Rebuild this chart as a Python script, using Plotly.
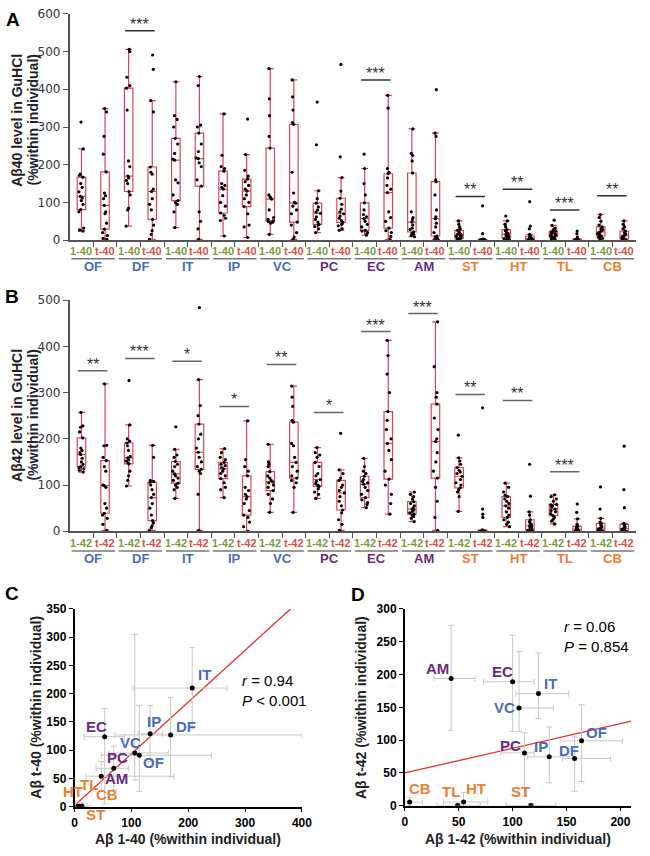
import plotly.graph_objects as go

# ---------------- data ----------------
regions = ["OF", "DF", "IT", "IP", "VC", "PC", "EC", "AM", "ST", "HT", "TL", "CB"]
region_class = ["b", "b", "b", "b", "b", "p", "p", "p", "o", "o", "o", "o"]

# Panel A: Abeta40 level in GuHCl (% within individual), per region
a40_1 = [
    [24, 27, 32, 75, 81, 95, 105, 112, 116, 128, 140, 150, 167, 172, 175, 242, 313],
    [37, 80, 85, 120, 129, 150, 158, 165, 170, 195, 210, 345, 403, 410, 432, 500, 506],
    [33, 75, 95, 100, 105, 120, 152, 160, 212, 215, 230, 255, 270, 300, 320, 330, 420],
    [11, 52, 58, 66, 72, 90, 100, 118, 135, 140, 145, 150, 183, 190, 195, 225, 335],
    [15, 45, 48, 50, 51, 55, 60, 80, 109, 112, 115, 120, 244, 275, 330, 375, 455],
    [20, 30, 36, 40, 42, 48, 55, 62, 71, 75, 80, 88, 98, 110, 131, 253, 366],
    [13, 18, 20, 24, 26, 35, 42, 50, 57, 62, 68, 80, 99, 120, 150, 190, 228],
    [9, 12, 15, 18, 22, 28, 32, 40, 48, 55, 60, 75, 178, 210, 225, 230, 295],
    [1, 2, 3, 4, 5, 8, 10, 12, 14, 16, 18, 22, 26, 30, 35, 42, 51],
    [1, 2, 3, 4, 5, 8, 10, 12, 15, 18, 20, 25, 28, 35, 42, 51, 64],
    [2, 4, 6, 8, 9, 11, 13, 15, 17, 19, 21, 22, 24, 28, 32, 39, 53],
    [3, 5, 8, 10, 11, 14, 17, 20, 22, 25, 28, 30, 35, 40, 50, 60, 68],
]
a40_t = [
    [2, 5, 12, 20, 29, 45, 70, 75, 92, 110, 118, 125, 181, 228, 275, 340, 349],
    [2, 15, 25, 40, 55, 80, 95, 110, 129, 135, 175, 180, 194, 340, 370, 453, 491],
    [2, 30, 50, 75, 143, 160, 195, 205, 216, 218, 235, 255, 284, 300, 305, 410, 434],
    [7, 35, 40, 70, 89, 100, 110, 120, 130, 135, 145, 155, 162, 170, 185, 227, 321],
    [2, 8, 20, 40, 48, 70, 80, 90, 98, 100, 125, 180, 307, 312, 345, 380, 425],
    [26, 30, 38, 42, 47, 52, 58, 64, 70, 75, 82, 95, 111, 130, 166, 221, 466],
    [2, 10, 20, 25, 32, 50, 60, 75, 126, 135, 145, 165, 176, 180, 190, 350, 384],
    [2, 4, 6, 9, 11, 20, 35, 45, 57, 62, 80, 120, 155, 160, 275, 284, 399],
    [0, 0, 0, 0, 0, 0, 0, 0, 0, 0, 0, 1, 1, 2, 3, 17, 91],
    [0, 0, 0, 1, 1, 2, 3, 4, 5, 6, 7, 9, 11, 15, 30, 37, 102],
    [0, 0, 0, 0, 0, 0, 0, 0, 1, 1, 2, 2, 3, 4, 8, 17, 24],
    [0, 0, 1, 2, 3, 5, 7, 9, 12, 14, 16, 20, 24, 30, 35, 42, 51],
]
# Panel B: Abeta42
a42_1 = [
    [128, 132, 135, 137, 140, 145, 150, 158, 166, 170, 175, 180, 202, 215, 225, 228, 257],
    [98, 110, 120, 130, 146, 148, 152, 155, 159, 162, 175, 185, 191, 195, 200, 230, 326],
    [71, 90, 95, 100, 104, 110, 115, 120, 124, 130, 140, 145, 151, 160, 165, 177, 226],
    [73, 90, 95, 105, 114, 120, 125, 130, 135, 138, 142, 145, 149, 155, 160, 170, 179],
    [41, 60, 70, 80, 88, 95, 100, 105, 107, 110, 115, 120, 129, 140, 145, 150, 188],
    [71, 80, 85, 92, 97, 100, 103, 108, 112, 120, 125, 140, 149, 160, 165, 170, 181],
    [51, 58, 62, 68, 73, 80, 88, 95, 102, 105, 108, 112, 119, 125, 130, 140, 158],
    [21, 28, 32, 35, 37, 40, 43, 46, 48, 50, 55, 60, 64, 70, 75, 80, 85],
    [43, 75, 85, 90, 94, 100, 105, 112, 119, 125, 128, 132, 138, 145, 152, 159, 208],
    [10, 15, 20, 25, 30, 35, 42, 50, 55, 60, 65, 70, 75, 78, 85, 95, 104],
    [16, 22, 26, 30, 34, 38, 42, 45, 48, 52, 55, 57, 58, 65, 70, 75, 79],
    [0, 1, 1, 2, 2, 3, 4, 5, 7, 9, 11, 14, 17, 20, 28, 48, 96],
]
a42_t = [
    [2, 15, 28, 35, 39, 50, 60, 95, 99, 100, 130, 140, 153, 160, 185, 186, 319],
    [2, 8, 12, 18, 23, 35, 50, 60, 73, 80, 90, 100, 106, 108, 110, 160, 186],
    [2, 80, 125, 130, 134, 140, 150, 160, 171, 180, 200, 210, 232, 250, 272, 328, 484],
    [0, 10, 20, 30, 35, 45, 60, 70, 75, 80, 88, 95, 120, 130, 140, 155, 239],
    [41, 95, 105, 110, 115, 120, 130, 140, 149, 160, 185, 190, 236, 240, 270, 290, 314],
    [2, 15, 25, 40, 46, 55, 65, 75, 83, 88, 95, 100, 110, 115, 125, 133, 212],
    [37, 60, 80, 100, 113, 130, 155, 175, 190, 200, 220, 240, 259, 300, 340, 380, 413],
    [2, 30, 65, 95, 115, 130, 150, 170, 194, 200, 220, 245, 275, 290, 300, 356, 453],
    [0, 0, 0, 0, 0, 0, 0, 0, 0, 1, 1, 2, 3, 30, 37, 48, 267],
    [0, 0, 1, 2, 3, 5, 7, 10, 12, 15, 18, 21, 25, 35, 42, 76, 145],
    [0, 0, 0, 0, 0, 1, 2, 3, 4, 5, 7, 9, 11, 15, 27, 41, 59],
    [0, 0, 1, 1, 2, 3, 4, 5, 6, 8, 10, 12, 15, 17, 51, 90, 184],
]

sigA_region = [1, 6, 8, 9, 10, 11]
sigA_level = [555, 425, 116, 135, 80, 118]
sigA_text = ["***", "***", "**", "**", "***", "**"]
sigB_region = [0, 1, 2, 3, 4, 5, 6, 7, 8, 9, 10]
sigB_level = [347, 374, 368, 270, 361, 257, 432, 471, 296, 283, 129]
sigB_text = ["**", "***", "*", "*", "**", "*", "***", "***", "**", "**", "***"]

# Panel C: Abeta 1-40 vs t-40 (mean with ranges)
c_x = [114, 169, 207, 133, 106, 69, 53, 47, 11, 6, 9, 13]
c_y = [91, 127, 210, 129, 95, 68, 124, 54, 0, 1, 1, 1]
c_x_lo = [47, 71, 103, 112, 60, 38, 17, 20, 2, 1, 3, 5]
c_x_hi = [241, 400, 268, 155, 165, 95, 88, 175, 27, 12, 16, 22]
c_y_lo = [27, 53, 138, 80, 47, 30, 5, 27, 0, 0, 0, 0]
c_y_hi = [179, 193, 282, 179, 305, 107, 174, 80, 3, 4, 4, 8]
fit_c_x = [0, 380]
fit_c_y = [2, 350]

# Panel D: Abeta 1-42 vs t-42
d_x = [164, 157.5, 124, 134, 106, 111, 100, 43, 117, 54.5, 49, 4.5]
d_y = [99, 72, 171, 74.5, 149, 80.5, 189, 194, 0.5, 5.5, 0.5, 5.5]
d_x_lo = [144, 146, 103, 114, 100, 89, 73, 27, 94, 36, 30, 0]
d_x_hi = [202, 191, 152, 157, 138, 120, 120, 65, 140, 77, 70, 16.5]
d_y_lo = [37, 22, 133, 35, 113, 15, 113, 115, 0, 0, 0, 0]
d_y_hi = [154, 105, 233, 120, 235, 111, 260, 275, 3, 20, 3, 13]
fit_d_x = [0, 210]
fit_d_y = [50, 129]

# ---------------- style ----------------
W, H = 650, 856
ARIAL = "Liberation Sans, Arial, sans-serif"
DEJAVU = "DejaVu Sans, Verdana, sans-serif"
BOX = "#d8445e"
GREEN = "#7d9c3c"
TRED = "#d6514b"
CLS = {"b": "#4a6db5", "p": "#6a2b7c", "o": "#ee7d30"}
FIT = "#e3302a"
ERR = "#c8c8c8"


def px(x):
    return x / W


def py(y):
    return 1 - y / H


fig = go.Figure()


def add_boxes(series, offset, xa, ya):
    xs, ys = [], []
    for i, vals in enumerate(series):
        xs.extend([2 * i + offset] * len(vals))
        ys.extend(vals)
    fig.add_trace(go.Box(
        x=xs, y=ys, xaxis=xa, yaxis=ya, boxpoints="all", jitter=0.8, pointpos=0,
        width=0.36, whiskerwidth=0.8, quartilemethod="inclusive",
        line=dict(color=BOX, width=1.2), fillcolor="rgba(0,0,0,0)",
        marker=dict(color="black", size=3.2), showlegend=False, hoverinfo="skip"))


add_boxes(a40_1, 0, "x", "y")
add_boxes(a40_t, 1, "x", "y")
add_boxes(a42_1, 0, "x2", "y2")
add_boxes(a42_t, 1, "x2", "y2")

annotations = []
shapes = []


def note(**kw):
    kw.setdefault("showarrow", False)
    kw.setdefault("xanchor", "center")
    kw.setdefault("yanchor", "middle")
    annotations.append(kw)


def cat_labels(xa, y_lab, y_line, y_reg, sfx):
    for i, r in enumerate(regions):
        note(x=2 * i, y=py(y_lab), xref=xa, yref="paper", text="1-" + sfx,
             font=dict(family=ARIAL, size=11, color=GREEN, weight="bold"))
        note(x=2 * i + 1, y=py(y_lab), xref=xa, yref="paper", text="t-" + sfx,
             font=dict(family=ARIAL, size=11, color=TRED, weight="bold"))
        shapes.append(dict(type="line", xref=xa, yref="paper", x0=2 * i - 0.42, x1=2 * i + 1.42,
                           y0=py(y_line), y1=py(y_line), line=dict(color="#777", width=1.5)))
        note(x=2 * i + 0.5, y=py(y_reg), xref=xa, yref="paper", text=r,
             font=dict(family=ARIAL, size=13, color=CLS[region_class[i]], weight="bold"))


cat_labels("x", 248, 256, 264, "40")
cat_labels("x2", 545, 553, 561, "42")


def sig(xa, ya, idx, lev, txt, col):
    for g, lv, t in zip(idx, lev, txt):
        shapes.append(dict(type="line", xref=xa, yref=ya, x0=2 * g - 0.15, x1=2 * g + 1.1,
                           y0=lv, y1=lv, line=dict(color=col, width=1.5)))
        note(x=2 * g + 0.47, y=lv, xref=xa, yref=ya, text=t, yanchor="bottom", yshift=-4,
             font=dict(family=ARIAL, size=16, color="#333"))


sig("x", "y", sigA_region, sigA_level, sigA_text, "#333")
sig("x2", "y2", sigB_region, sigB_level, sigB_text, "#666")

# scatter panels
reg_colors = [CLS[c] for c in region_class]


def add_scatter(xa, ya, xv, yv, xlo, xhi, ylo, yhi, fx, fy):
    fig.add_trace(go.Scatter(x=fx, y=fy, xaxis=xa, yaxis=ya, mode="lines",
                             line=dict(color=FIT, width=1.3), showlegend=False, hoverinfo="skip"))
    fig.add_trace(go.Scatter(
        x=xv, y=yv, xaxis=xa, yaxis=ya, mode="markers", showlegend=False, hoverinfo="skip",
        marker=dict(color="black", size=5),
        error_x=dict(type="data", symmetric=False,
                     array=[h - v for h, v in zip(xhi, xv)],
                     arrayminus=[v - l for l, v in zip(xlo, xv)],
                     color=ERR, thickness=1, width=3),
        error_y=dict(type="data", symmetric=False,
                     array=[h - v for h, v in zip(yhi, yv)],
                     arrayminus=[v - l for l, v in zip(ylo, yv)],
                     color=ERR, thickness=1, width=3)))


add_scatter("x3", "y3", c_x, c_y, c_x_lo, c_x_hi, c_y_lo, c_y_hi, fit_c_x, fit_c_y)
add_scatter("x4", "y4", d_x, d_y, d_x_lo, d_x_hi, d_y_lo, d_y_hi, fit_d_x, fit_d_y)

shift_c = {"OF": (14, -7), "DF": (15, 8), "IT": (12, 14), "IP": (4, 12), "VC": (-4, 11),
           "PC": (4, 11), "EC": (-8, 10), "AM": (15, -2), "ST": (15, -8), "HT": (-5, 15),
           "TL": (9, 22), "CB": (25, 12)}
shift_d = {"OF": (15, 8), "DF": (-6, 8), "IT": (12, 10), "IP": (-8, 10), "VC": (-15, 1),
           "PC": (-14, 7), "EC": (-10, 10), "AM": (-14, 10), "ST": (-10, 14), "HT": (12, 14),
           "TL": (-7, 14), "CB": (10, 14)}
for xa, ya, xv, yv, sh in (("x3", "y3", c_x, c_y, shift_c), ("x4", "y4", d_x, d_y, shift_d)):
    for r, x, y, col in zip(regions, xv, yv, reg_colors):
        note(x=x, y=y, xref=xa, yref=ya, text=r, xshift=sh[r][0], yshift=sh[r][1],
             font=dict(family=ARIAL, size=15, color=col, weight="bold"))

# stats text
note(x=px(242), y=py(695), xref="paper", yref="paper", xanchor="left",
     text="<i>r</i> = 0.94<br><i>P</i> &lt; 0.001", align="left",
     font=dict(family=ARIAL, size=15, color="black"))
note(x=px(570), y=py(640), xref="paper", yref="paper", xanchor="left",
     text="<i>r</i> = 0.06<br><i>P</i> = 0.854", align="left",
     font=dict(family=ARIAL, size=15, color="black"))

# panel letters
for letter, lx, ly in (("A", 10, 13), ("B", 9, 294), ("C", 9, 596), ("D", 362, 597)):
    note(x=px(lx), y=py(ly), xref="paper", yref="paper", text=letter,
         font=dict(family=ARIAL, size=19, color="black", weight="bold"))

# axis titles
for txt, xx, yy in (("Aβ40 level in GuHCl", 14, 115), ("(%within individual)", 31, 115),
                    ("Aβ42 level in GuHCl", 14, 415), ("(%within individual)", 31, 415)):
    note(x=px(xx), y=py(yy), xref="paper", yref="paper", text=txt, textangle=-90,
         font=dict(family=ARIAL, size=14, color="#222", weight="bold"))
for txt, xx, yy, ang in (("Aβ t-40 (%within individual)", 34, 712, -90),
                         ("Aβ 1-40 (%within individual)", 189, 846, 0),
                         ("Aβ t-42 (%within individual)", 366, 712, -90),
                         ("Aβ 1-42 (%within individual)", 526, 846, 0)):
    note(x=px(xx), y=py(yy), xref="paper", yref="paper", text=txt, textangle=ang,
         font=dict(family=ARIAL, size=14, color="#222", weight="bold"))

box_x = dict(range=[-0.5, 23.5], showline=True, linecolor="#555", linewidth=1.5, ticks="outside",
             ticklen=5, tickcolor="#555", tickvals=[i + 0.5 for i in range(23)], showticklabels=False,
             showgrid=False, zeroline=False, fixedrange=True)
box_y = dict(showline=True, linecolor="#555", linewidth=1.5, ticks="outside", ticklen=5,
             tickcolor="#555", tickfont=dict(family=DEJAVU, size=12, color="#333"),
             showgrid=False, zeroline=False, dtick=100)
sc_ax = dict(showline=True, linecolor="black", linewidth=1.5, ticks="outside", ticklen=4,
             tickcolor="black", tickfont=dict(family=ARIAL, size=12, color="black", weight="bold"),
             showgrid=False, zeroline=False)

fig.update_layout(
    width=W, height=H, margin=dict(l=0, r=0, t=0, b=0), paper_bgcolor="white",
    plot_bgcolor="white", boxmode="overlay", hovermode=False, showlegend=False,
    xaxis=dict(domain=[px(68), px(646)], anchor="y", **box_x),
    yaxis=dict(domain=[py(237), py(7)], anchor="x", range=[0, 600], **box_y),
    xaxis2=dict(domain=[px(68), px(646)], anchor="y2", **box_x),
    yaxis2=dict(domain=[py(533), py(298)], anchor="x2", range=[0, 500], **box_y),
    xaxis3=dict(domain=[px(73), px(305)], anchor="y3", range=[0, 400], dtick=100, **sc_ax),
    yaxis3=dict(domain=[py(813), py(612)], anchor="x3", range=[0, 350], dtick=50, **sc_ax),
    xaxis4=dict(domain=[px(410), px(641)], anchor="y4", range=[0, 210], tickvals=[0, 50, 100, 150, 200], **sc_ax),
    yaxis4=dict(domain=[py(812), py(612)], anchor="x4", range=[0, 300], dtick=50, **sc_ax),
    annotations=annotations, shapes=shapes,
)

fig.write_html("out.html", config={"displayModeBar": False},
               post_script="document.body.style.margin='0px';")
